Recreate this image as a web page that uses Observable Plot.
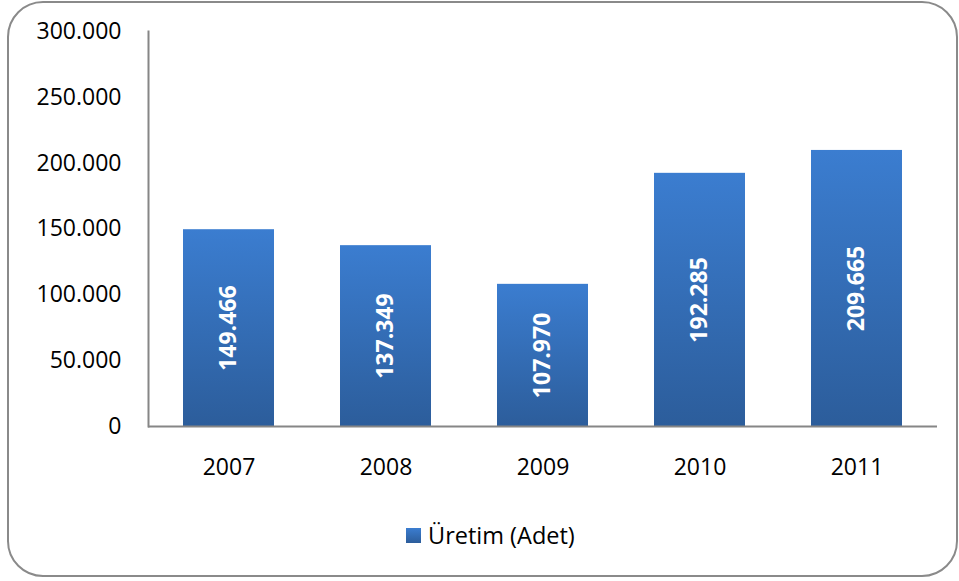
<!DOCTYPE html>
<html>
<head>
<meta charset="utf-8">
<script src="https://cdn.jsdelivr.net/npm/d3@7"></script>
<script src="https://cdn.jsdelivr.net/npm/@observablehq/plot@0.6"></script>
<style>
  html, body { margin: 0; padding: 0; background: #fff; }
  #wrap { position: relative; width: 959px; height: 581px; overflow: hidden; font-family: "Open Sans", sans-serif; }
  #border { position: absolute; left: 7px; top: 1px; border: 2px solid #8a8a8a; border-radius: 36px; box-sizing: border-box; width: 951px; height: 576px; }
  #chart { position: absolute; left: 0; top: 0; }
  #legend { position: absolute; left: 406px; top: 519px; display: flex; align-items: center; font-size: 23.5px; color: #000; }
  #legend .sw { width: 15px; height: 15px; background: linear-gradient(#3b7dd0, #2c5d9b); margin-right: 7px; }
</style>
</head>
<body>
<div id="wrap">
  <div id="border"></div>
  <div id="chart"></div>
  <div id="legend"><span class="sw"></span><span>Üretim (Adet)</span></div>
</div>
<script>
const years = ["2007", "2008", "2009", "2010", "2011"];
const production = [149466, 137349, 107970, 192285, 209665];
const yTicks = [0, 50000, 100000, 150000, 200000, 250000, 300000];
const seriesName = "Üretim (Adet)";

const data = years.map((y, i) => ({year: y, value: production[i]}));
const loc = d3.formatLocale({decimal: ",", thousands: ".", grouping: [3], currency: ["", ""]});
const fmt = loc.format(",d");

const gradientDefs = () => {
  const svgNS = "http://www.w3.org/2000/svg";
  const g = document.createElementNS(svgNS, "defs");
  g.innerHTML = `
    <linearGradient id="barGrad" x1="0" y1="0" x2="0" y2="1">
      <stop offset="0%" stop-color="#3b7dd0"/>
      <stop offset="100%" stop-color="#2c5d9b"/>
    </linearGradient>
    <filter id="shadow" x="-10%" y="-5%" width="125%" height="115%">
      <feDropShadow dx="2" dy="2" stdDeviation="1.5" flood-color="#000" flood-opacity="0.25"/>
    </filter>`;
  return g;
};

const chart = Plot.plot({
  width: 959,
  height: 500,
  marginLeft: 148,
  marginRight: 22,
  marginTop: 31,
  marginBottom: 74,
  style: {fontFamily: "'Open Sans', sans-serif", fontSize: "23px", color: "#000", background: "transparent", overflow: "visible"},
  x: {domain: years, paddingInner: 0.42, paddingOuter: 0.21, label: null},
  y: {domain: [0, 300000], label: null},
  marks: [
    gradientDefs,
    Plot.barY(data, {x: "year", y: "value", fill: "url(#barGrad)", style: {filter: "url(#shadow)"}}),
    Plot.axisY({ticks: yTicks, tickSize: 0, tickPadding: 27, tickFormat: fmt, fontSize: 23, label: null}),
    Plot.axisX({tickSize: 0, tickPadding: 32, fontSize: 23, label: null}),
    Plot.ruleY([0], {stroke: "#868686", strokeWidth: 2}),
    Plot.frame({anchor: "left", stroke: "#868686", strokeWidth: 2}),
    Plot.text(data, {x: "year", y: d => d.value / 2, text: d => fmt(d.value), rotate: -90, fill: "white", fontWeight: "bold", fontSize: 23})
  ]
});
document.getElementById("chart").appendChild(chart);
</script>
</body>
</html>
